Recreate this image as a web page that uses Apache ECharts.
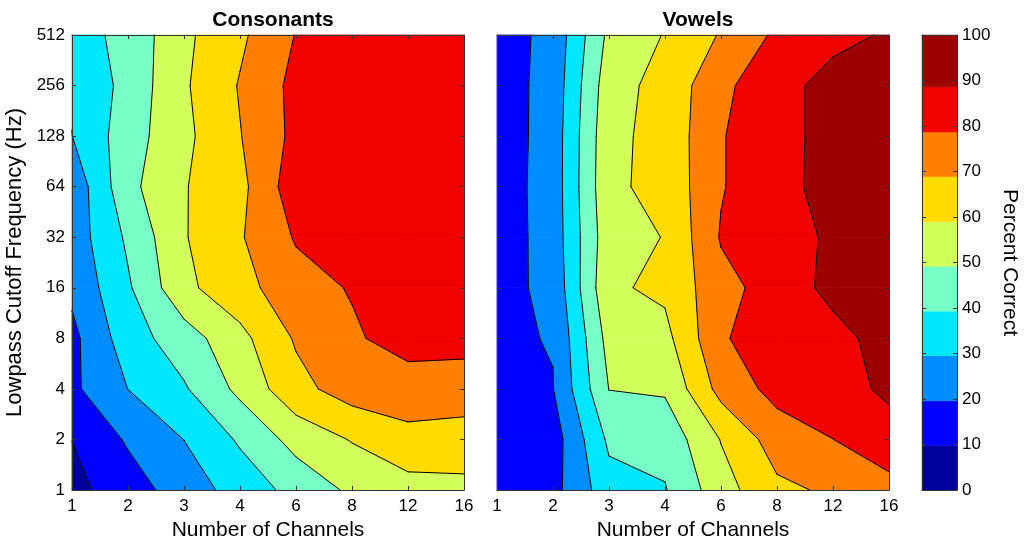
<!DOCTYPE html>
<html><head><meta charset="utf-8">
<script src="https://cdn.jsdelivr.net/npm/echarts/dist/echarts.min.js"></script>
<style>html,body{margin:0;padding:0;background:#fff}#c{width:1028px;height:548px}</style>
</head><body><div id="c"></div>
<script>
// ---- data ----
const channels = ['1','2','3','4','6','8','12','16'];
const cutoffs = ['1','2','4','8','16','32','64','128','256','512'];
// rows: cutoff index (1 Hz ... 512 Hz), columns: channel index
const consonants = [
  [7.0, 15.0, 24.3, 33.5, 42.5, 51.0, 54.9, 56.0],
  [9.9, 20.8, 29.6, 40.6, 52.7, 59.6, 66.3, 65.4],
  [17.6, 29.6, 38.2, 51.7, 65.8, 73.6, 73.8, 73.2],
  [17.0, 34.8, 44.6, 56.1, 70.0, 77.3, 82.9, 82.5],
  [21.7, 38.0, 56.7, 65.5, 74.9, 79.4, 84.0, 85.0],
  [23.9, 41.0, 58.3, 68.0, 79.6, 83.0, 85.0, 86.0],
  [22.6, 46.5, 58.4, 66.1, 84.6, 84.0, 85.0, 86.0],
  [29.4, 44.7, 56.6, 68.5, 81.2, 83.0, 85.0, 86.0],
  [30.2, 42.5, 57.7, 69.6, 81.4, 83.0, 85.0, 85.0],
  [34.9, 42.4, 56.9, 67.1, 79.1, 82.0, 84.0, 85.0]
];
const vowels = [
  [14.0, 16.4, 35.4, 38.65, 55.0, 66.8, 70.4, 74.6],
  [14.0, 14.9, 41.2, 42.7, 59.4, 73.6, 78.6, 86.0],
  [17.0, 19.3, 49.4, 50.5, 72.3, 81.9, 86.0, 89.8],
  [18.3, 20.0, 52.8, 56.0, 77.5, 85.0, 85.4, 92.5],
  [16.3, 22.2, 57.5, 61.0, 75.5, 82.9, 91.4, 93.0],
  [14.4, 23.8, 55.6, 59.3, 79.5, 85.0, 89.9, 92.0],
  [14.6, 23.9, 57.2, 61.8, 78.0, 86.0, 91.5, 93.0],
  [14.1, 23.9, 56.7, 62.0, 78.0, 86.0, 91.2, 93.0],
  [14.7, 23.3, 55.0, 62.4, 76.0, 86.5, 90.7, 92.0],
  [15.1, 22.5, 51.5, 59.5, 69.7, 80.5, 87.0, 89.2]
];
const levels = [0, 9.8, 19.6, 29.5, 39.3, 49.2, 59.0, 68.9, 78.7, 88.6, 100];

// ---- style ----
const FONT = '"Liberation Sans", Arial, Helvetica, sans-serif';
const bandColors = ['#00009C','#0000FF','#008CFF','#00E6FF','#76FFC6','#D2FF5C','#FFDC00','#FF8000','#F20000','#9C0000'];

function clip(pts, L, keepAbove) {
  const out = [];
  const n = pts.length;
  for (let k = 0; k < n; k++) {
    const P = pts[k], Q = pts[(k + 1) % n];
    const pIn = keepAbove ? P.v >= L : P.v <= L;
    const qIn = keepAbove ? Q.v >= L : Q.v <= L;
    if (pIn) out.push(P);
    if (pIn !== qIn) {
      const t = (L - P.v) / (Q.v - P.v);
      out.push({x: P.x + t * (Q.x - P.x), y: P.y + t * (Q.y - P.y), v: L});
    }
  }
  return out;
}
function corners(api, Z, i, j) {
  return [[i, j], [i + 1, j], [i + 1, j + 1], [i, j + 1]].map(function (c) {
    const p = api.coord(c);
    return {x: p[0], y: p[1], v: Z[c[1]][c[0]]};
  });
}
function fillRender(Z) {
  return function (params, api) {
    const q = corners(api, Z, api.value(0), api.value(1));
    const children = [];
    for (let k = 0; k < bandColors.length; k++) {
      let poly = q;
      if (k > 0) poly = clip(poly, levels[k], true);
      if (k < bandColors.length - 1 && poly.length) poly = clip(poly, levels[k + 1], false);
      if (poly.length >= 3) children.push({
        type: 'polygon', shape: {points: poly.map(function (p) { return [p.x, p.y]; })},
        style: {fill: bandColors[k], stroke: bandColors[k], lineWidth: 0.8}
      });
    }
    return {type: 'group', children: children};
  };
}
function lineRender(Z) {
  return function (params, api) {
    const q = corners(api, Z, api.value(0), api.value(1));
    const children = [];
    for (let k = 1; k < levels.length - 1; k++) {
      const L = levels[k];
      const pts = [];
      for (let e = 0; e < 4; e++) {
        const P = q[e], Q = q[(e + 1) % 4];
        if ((P.v >= L) !== (Q.v >= L)) {
          const t = (L - P.v) / (Q.v - P.v);
          pts.push([P.x + t * (Q.x - P.x), P.y + t * (Q.y - P.y)]);
        }
      }
      let segs = [];
      if (pts.length === 2) segs = [[pts[0], pts[1]]];
      else if (pts.length === 4) {
        const c = (q[0].v + q[1].v + q[2].v + q[3].v) / 4;
        if ((q[1].v >= L) !== (c >= L)) segs = [[pts[0], pts[1]], [pts[2], pts[3]]];
        else segs = [[pts[1], pts[2]], [pts[3], pts[0]]];
      }
      segs.forEach(function (s) {
        children.push({type: 'line', shape: {x1: s[0][0], y1: s[0][1], x2: s[1][0], y2: s[1][1]},
          style: {stroke: '#000', lineWidth: 1, lineCap: 'round'}});
      });
    }
    return {type: 'group', children: children};
  };
}

const cells = [];
for (let j = 0; j < cutoffs.length - 1; j++)
  for (let i = 0; i < channels.length - 1; i++) cells.push([i, j]);

const lineCol = '#333';
function xAx(g, pos, show, name) {
  return {type: 'value', gridIndex: g, position: pos, min: 0, max: channels.length - 1, interval: 1, z: 10,
    axisLine: {show: true, onZero: false, lineStyle: {color: lineCol, width: 1}},
    axisTick: {show: true, inside: true, length: 4, lineStyle: {color: lineCol}},
    axisLabel: {show: show, formatter: function (v) { return channels[v]; }, color: '#000', fontSize: 17, fontFamily: FONT, margin: 8},
    splitLine: {show: false},
    name: name || '', nameLocation: 'middle', nameGap: 30,
    nameTextStyle: {fontSize: 21, color: '#000', fontFamily: FONT}};
}
function yAx(g, pos, show, name) {
  return {type: 'value', gridIndex: g, position: pos, min: 0, max: cutoffs.length - 1, interval: 1, z: 10,
    axisLine: {show: true, onZero: false, lineStyle: {color: lineCol, width: 1}},
    axisTick: {show: true, inside: true, length: 4, lineStyle: {color: lineCol}},
    axisLabel: {show: show, formatter: function (v) { return cutoffs[v]; }, color: '#000', fontSize: 17, fontFamily: FONT, margin: 7},
    splitLine: {show: false},
    name: name || '', nameLocation: 'middle', nameGap: 46, nameRotate: 90,
    nameTextStyle: {fontSize: 22, color: '#000', fontFamily: FONT}};
}
function cbAx(pos, show, name) {
  return {type: 'value', gridIndex: 2, position: pos, min: 0, max: 100, interval: 10, z: 10,
    axisLine: {show: true, onZero: false, lineStyle: {color: lineCol, width: 1}},
    axisTick: {show: true, inside: true, length: 4, lineStyle: {color: lineCol}},
    axisLabel: {show: show, color: '#000', fontSize: 17, fontFamily: FONT, margin: 5},
    splitLine: {show: false},
    name: name || '', nameLocation: 'middle', nameGap: 42, nameRotate: -90,
    nameTextStyle: {fontSize: 21, color: '#000', fontFamily: FONT}};
}
function cbX(pos) {
  return {type: 'value', gridIndex: 2, position: pos, min: 0, max: 1, z: 10,
    axisLine: {show: true, onZero: false, lineStyle: {color: lineCol, width: 1}},
    axisTick: {show: false}, axisLabel: {show: false}, splitLine: {show: false}};
}

const chart = echarts.init(document.getElementById('c'), null, {renderer: 'canvas'});
chart.setOption({
  backgroundColor: '#fff',
  animation: false,
  title: [
    {text: 'Consonants', left: 268, top: 5, textAlign: 'center',
     textStyle: {fontSize: 21, fontWeight: 'bold', color: '#000', fontFamily: FONT}},
    {text: 'Vowels', left: 693, top: 5, textAlign: 'center',
     textStyle: {fontSize: 21, fontWeight: 'bold', color: '#000', fontFamily: FONT}}
  ],
  grid: [
    {left: 72, top: 35, width: 392, height: 455},
    {left: 497, top: 35, width: 392, height: 455},
    {left: 922, top: 35, width: 35, height: 455}
  ],
  xAxis: [
    xAx(0, 'bottom', true, 'Number of Channels'), xAx(0, 'top', false),
    xAx(1, 'bottom', true, 'Number of Channels'), xAx(1, 'top', false),
    cbX('bottom'), cbX('top')
  ],
  yAxis: [
    yAx(0, 'left', true, 'Lowpass Cutoff Frequency (Hz)'), yAx(0, 'right', false),
    yAx(1, 'left', false), yAx(1, 'right', false),
    cbAx('right', true, 'Percent Correct'), cbAx('left', false)
  ],
  series: [
    {type: 'custom', xAxisIndex: 0, yAxisIndex: 0, data: cells, renderItem: fillRender(consonants), z: 2, silent: true},
    {type: 'custom', xAxisIndex: 0, yAxisIndex: 0, data: cells, renderItem: lineRender(consonants), z: 3, silent: true},
    {type: 'custom', xAxisIndex: 2, yAxisIndex: 2, data: cells, renderItem: fillRender(vowels), z: 2, silent: true},
    {type: 'custom', xAxisIndex: 2, yAxisIndex: 2, data: cells, renderItem: lineRender(vowels), z: 3, silent: true},
    {type: 'custom', xAxisIndex: 4, yAxisIndex: 4, z: 2, silent: true,
     data: bandColors.map(function (c, k) { return [k, levels[k], levels[k + 1]]; }),
     encode: {y: [1, 2]},
     renderItem: function (params, api) {
       const k = api.value(0);
       const p1 = api.coord([0, api.value(1)]);
       const p2 = api.coord([1, api.value(2)]);
       return {type: 'rect', shape: {x: p1[0], y: p2[1], width: p2[0] - p1[0], height: p1[1] - p2[1]},
         style: {fill: bandColors[k], stroke: bandColors[k], lineWidth: 0.5}};
     }}
  ]
});
</script></body></html>
